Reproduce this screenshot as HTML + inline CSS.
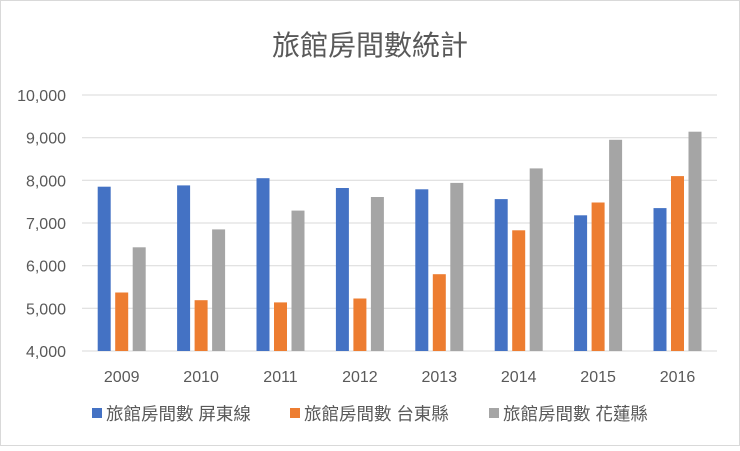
<!DOCTYPE html>
<html><head><meta charset="utf-8"><style>
body{margin:0;background:#fff}
svg text{font-family:"Liberation Sans","Noto Sans CJK TC",sans-serif;fill:#595959}
</style></head><body>
<svg width="740" height="446" viewBox="0 0 740 446" xmlns="http://www.w3.org/2000/svg">
<rect x="0.5" y="0.5" width="739" height="445" fill="#fff" stroke="#d9d9d9"/>
<text x="370" y="55" font-size="28" text-anchor="middle">旅館房間數統計</text>
<g stroke="#d9d9d9" stroke-width="1">
<line x1="82" x2="717" y1="95" y2="95"/>
<line x1="82" x2="717" y1="137.7" y2="137.7"/>
<line x1="82" x2="717" y1="180.3" y2="180.3"/>
<line x1="82" x2="717" y1="223" y2="223"/>
<line x1="82" x2="717" y1="265.7" y2="265.7"/>
<line x1="82" x2="717" y1="308.3" y2="308.3"/>
<line x1="82" x2="717" y1="351" y2="351"/>
</g>
<g font-size="16" text-anchor="end">
<text x="66" y="101">10,000</text>
<text x="66" y="143.7">9,000</text>
<text x="66" y="186.3">8,000</text>
<text x="66" y="229">7,000</text>
<text x="66" y="271.7">6,000</text>
<text x="66" y="314.3">5,000</text>
<text x="66" y="357">4,000</text>
</g>
<g fill="#4472c4">
<rect x="97.7" y="186.7" width="13" height="164.3"/>
<rect x="177.1" y="185.4" width="13" height="165.6"/>
<rect x="256.5" y="178.2" width="13" height="172.8"/>
<rect x="335.9" y="188.0" width="13" height="163.0"/>
<rect x="415.3" y="189.3" width="13" height="161.7"/>
<rect x="494.7" y="199.1" width="13" height="151.9"/>
<rect x="574.1" y="215.3" width="13" height="135.7"/>
<rect x="653.5" y="208.1" width="13" height="142.9"/>
</g>
<g fill="#ed7d31">
<rect x="115.2" y="292.5" width="13" height="58.5"/>
<rect x="194.6" y="300.2" width="13" height="50.8"/>
<rect x="274" y="302.4" width="13" height="48.6"/>
<rect x="353.4" y="298.5" width="13" height="52.5"/>
<rect x="432.8" y="274.2" width="13" height="76.8"/>
<rect x="512.2" y="230.3" width="13" height="120.7"/>
<rect x="591.6" y="202.5" width="13" height="148.5"/>
<rect x="671" y="176.1" width="13" height="174.9"/>
</g>
<g fill="#a5a5a5">
<rect x="132.7" y="247.3" width="13" height="103.7"/>
<rect x="212.1" y="229.4" width="13" height="121.6"/>
<rect x="291.5" y="210.6" width="13" height="140.4"/>
<rect x="370.9" y="197.0" width="13" height="154.0"/>
<rect x="450.3" y="182.9" width="13" height="168.1"/>
<rect x="529.7" y="168.4" width="13" height="182.6"/>
<rect x="609.1" y="139.8" width="13" height="211.2"/>
<rect x="688.5" y="131.7" width="13" height="219.3"/>
</g>
<g font-size="16" text-anchor="middle">
<text x="121.7" y="382">2009</text>
<text x="201.1" y="382">2010</text>
<text x="280.5" y="382">2011</text>
<text x="359.9" y="382">2012</text>
<text x="439.3" y="382">2013</text>
<text x="518.7" y="382">2014</text>
<text x="598.1" y="382">2015</text>
<text x="677.5" y="382">2016</text>
</g>
<g font-size="17.5">
<rect x="92" y="408" width="10" height="10" fill="#4472c4"/>
<text x="106" y="420">旅館房間數 屏東線</text>
<rect x="290" y="408" width="10" height="10" fill="#ed7d31"/>
<text x="304" y="420">旅館房間數 台東縣</text>
<rect x="489" y="408" width="10" height="10" fill="#a5a5a5"/>
<text x="503" y="420">旅館房間數 花蓮縣</text>
</g>
</svg>
</body></html>
